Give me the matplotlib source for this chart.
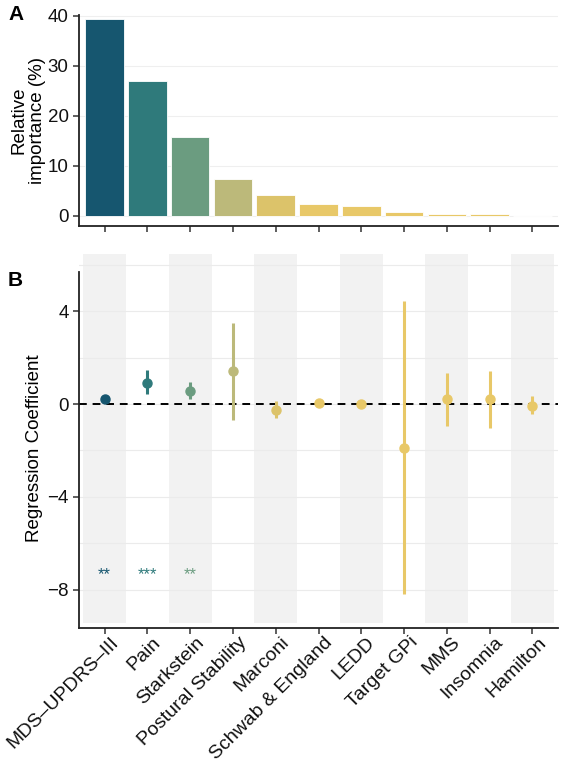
import matplotlib.pyplot as plt
import matplotlib.transforms as mtransforms
import numpy as np

plt.rcParams['font.family'] = ['Liberation Sans', 'DejaVu Sans']

# Data
predictors = ['MDS–UPDRS–III', 'Pain', 'Starkstein', 'Postural Stability', 'Marconi',
              'Schwab & England', 'LEDD', 'Target GPi', 'MMS', 'Insomnia', 'Hamilton']
importance = [39.4, 27.1, 15.9, 7.5, 4.2, 2.4, 2.0, 0.75, 0.35, 0.35, 0.1]
coef = [0.22, 0.92, 0.57, 1.42, -0.26, 0.04, -0.01, -1.9, 0.22, 0.22, -0.07]
ci_low = [0.12, 0.42, 0.20, -0.69, -0.62, -0.06, -0.08, -8.2, -0.93, -1.02, -0.44]
ci_high = [0.32, 1.47, 0.94, 3.50, 0.12, 0.14, 0.07, 4.44, 1.32, 1.43, 0.34]
signif = ['**', '***', '**', '', '', '', '', '', '', '', '']
colors = ['#16566f', '#2f7a7b', '#6b9c80', '#bcb97a', '#dcc36a',
          '#e8c868', '#e8c868', '#e8c868', '#e8c868', '#e8c868', '#e8c868']

x = np.arange(1, len(predictors) + 1)
W, H = 561, 764
fig = plt.figure(figsize=(W / 100, H / 100), dpi=100)

def style(ax):
    for s in ['top', 'right']:
        ax.spines[s].set_visible(False)
    for s in ['left', 'bottom']:
        ax.spines[s].set_linewidth(1.3)
        ax.spines[s].set_color('#222222')
    ax.tick_params(direction='out', length=4, width=1.1, color='#333333',
                   labelsize=13.5, labelcolor='#111111')
    ax.set_xlim(0.4, 11.6)

# Panel A: relative importance
axA = fig.add_axes([79 / W, 1 - 226 / H, 479 / W, 211 / H])
style(axA)
axA.bar(x, importance, width=0.9, color=colors, edgecolor='white', linewidth=0.6, zorder=2)
axA.set_ylim(-2, 40.2)
axA.set_yticks([0, 10, 20, 30, 40])
axA.set_xticks(x)
axA.set_xticklabels([])
axA.yaxis.grid(True, color='#efefef', linewidth=0.8, zorder=0)
axA.set_axisbelow(True)
fig.text(28 / W, 1 - 120 / H, 'Relative\nimportance (%)', rotation=90,
         ha='center', va='center', fontsize=13.5, linespacing=1.15)
fig.text(8 / W, 1 - 15 / H, 'A', fontsize=15, fontweight='bold', va='center')

# Panel B: regression coefficients
axB = fig.add_axes([79 / W, 1 - 628.3 / H, 479 / W, 374.3 / H])
style(axB)
axB.set_ylim(-9.67, 6.47)
axB.spines['left'].set_bounds(-9.67, 5.7)
for i in x[::2]:
    axB.bar(i, 15.91, bottom=-9.44, width=1.0, color='#f2f2f2', zorder=0)
for g in [6, 4, 2, 0, -2, -4, -6, -8]:
    axB.axhline(g, color='#ebebeb', linewidth=0.8, zorder=0.5)
axB.axhline(0, color='black', linewidth=1.4, linestyle=(0, (4, 3)), zorder=1)
for i in range(len(predictors)):
    axB.plot([x[i], x[i]], [ci_low[i], ci_high[i]], color=colors[i],
             linewidth=2.2, solid_capstyle='butt', zorder=2)
    axB.plot(x[i], coef[i], 'o', color=colors[i], markersize=6.5, zorder=3)
    if signif[i]:
        axB.text(x[i], -7.34, signif[i], color=colors[i], fontsize=12,
                 ha='center', va='center')
axB.set_yticks([4, 0, -4, -8])
axB.set_yticklabels(['4', '0', '−4', '−8'])
axB.set_xticks(x)
axB.set_xticklabels(predictors, rotation=45, ha='right', va='top',
                    rotation_mode='anchor', fontsize=14)
shift = mtransforms.ScaledTranslation(5 / 100, 5 / 100, fig.dpi_scale_trans)
for lab in axB.get_xticklabels():
    lab.set_transform(lab.get_transform() + shift)
fig.text(35 / W, 1 - 448 / H, 'Regression Coefficient', rotation=90,
         ha='center', va='center', fontsize=13.5)
fig.text(8 / W, 1 - 280 / H, 'B', fontsize=15, fontweight='bold', va='center')

fig.savefig('out.png', dpi=100)
